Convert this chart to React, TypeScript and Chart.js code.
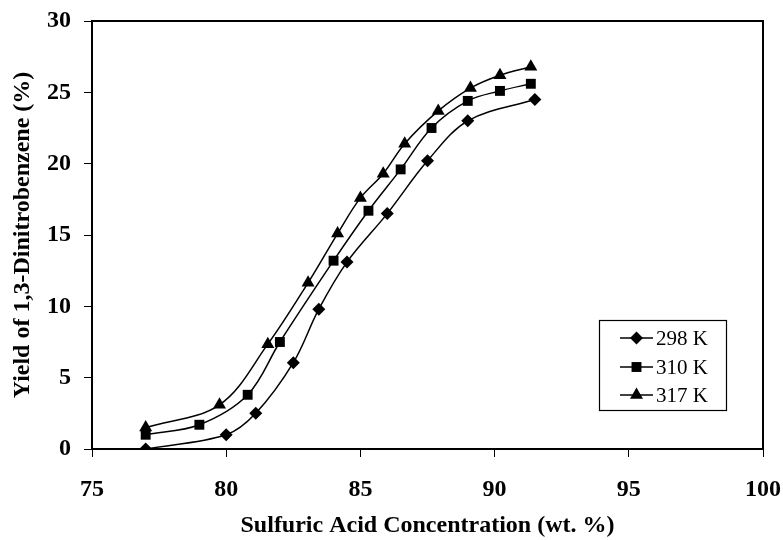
import React, { useEffect, useRef } from "react";
import { Chart, registerables } from "chart.js";
import { drawPoint } from "chart.js/helpers";

Chart.register(...registerables);

const FONT = "'Liberation Serif', 'Times New Roman', Times, serif";

const X_TITLE = "Sulfuric Acid Concentration (wt. %)";
const Y_TITLE = "Yield of 1,3-Dinitrobenzene (%)";

const X_MIN = 75;
const X_MAX = 100;
const X_STEP = 5;
const Y_MIN = 0;
const Y_MAX = 30;
const Y_STEP = 5;

const LABELS = ["298 K", "310 K", "317 K"];

const x298 = [77, 80, 81.1, 82.5, 83.45, 84.5, 86, 87.5, 89, 91.5];
const y298 = [0, 1.0, 2.5, 6.05, 9.8, 13.1, 16.5, 20.2, 23.0, 24.5];

const x310 = [77, 79, 80.8, 82, 84, 85.3, 86.5, 87.65, 89, 90.2, 91.35];
const y310 = [1.0, 1.7, 3.8, 7.5, 13.2, 16.7, 19.6, 22.5, 24.4, 25.1, 25.6];

const x317 = [77, 79.75, 81.55, 83.05, 84.15, 85.0, 85.85, 86.65, 87.9, 89.1, 90.2, 91.35];
const y317 = [1.5, 3.1, 7.35, 11.65, 15.1, 17.6, 19.3, 21.4, 23.7, 25.3, 26.2, 26.8];

const toPts = (xs: number[], ys: number[]) => xs.map((x, i) => ({ x, y: ys[i] }));

const boxPlugin = {
  id: "boxPlugin",
  afterDraw(chart: any) {
    const { ctx, chartArea } = chart;
    ctx.save();
    ctx.strokeStyle = "#000";
    ctx.lineWidth = 2;
    ctx.strokeRect(chartArea.left, chartArea.top, chartArea.right - chartArea.left, chartArea.bottom - chartArea.top);
    ctx.restore();
  },
};

const legendPlugin = {
  id: "customLegend",
  afterDraw(chart: any) {
    const { ctx } = chart;
    const bx = 599, by = 320, bw = 127, bh = 90;
    ctx.save();
    ctx.fillStyle = "#fff";
    ctx.fillRect(bx, by, bw, bh);
    ctx.strokeStyle = "#000";
    ctx.lineWidth = 1.2;
    ctx.strokeRect(bx + 0.5, by + 0.5, bw, bh);
    const rows = [338, 367, 395];
    chart.data.datasets.forEach((ds: any, i: number) => {
      const y = rows[i];
      ctx.strokeStyle = "#000";
      ctx.lineWidth = 1.5;
      ctx.beginPath();
      ctx.moveTo(620, y);
      ctx.lineTo(653, y);
      ctx.stroke();
      ctx.fillStyle = "#000";
      drawPoint(ctx, { pointStyle: ds.pointStyle, radius: ds.pointRadius, rotation: 0, borderWidth: 0 } as any, 636.5, y);
      ctx.fillStyle = "#000";
      ctx.font = `21px ${FONT}`;
      ctx.textBaseline = "middle";
      ctx.textAlign = "left";
      ctx.fillText(ds.label, 656, y + 1);
    });
    ctx.restore();
  },
};

export default function App() {
  const ref = useRef<HTMLCanvasElement | null>(null);

  useEffect(() => {
    if (!ref.current) return;
    const common = {
      borderColor: "#000",
      borderWidth: 1.5,
      pointBackgroundColor: "#000",
      pointBorderColor: "#000",
      pointBorderWidth: 0,
      tension: 0.35,
      fill: false,
    };
    const chart = new Chart(ref.current, {
      type: "line",
      data: {
        datasets: [
          { ...common, label: LABELS[0], data: toPts(x298, y298), pointStyle: "rectRot", pointRadius: 6.5 },
          { ...common, label: LABELS[1], data: toPts(x310, y310), pointStyle: "rect", pointRadius: 7 },
          { ...common, label: LABELS[2], data: toPts(x317, y317), pointStyle: "triangle", pointRadius: 7.5 },
        ] as any,
      },
      options: {
        animation: false,
        responsive: true,
        maintainAspectRatio: false,
        layout: { padding: { left: 0, top: 21, right: 20, bottom: 0 } },
        plugins: { legend: { display: false }, tooltip: { enabled: false } },
        scales: {
          x: {
            type: "linear",
            min: X_MIN,
            max: X_MAX,
            ticks: {
              stepSize: X_STEP,
              color: "#000",
              font: { family: FONT, size: 24, weight: "bold" },
              padding: 18,
              maxRotation: 0,
            },
            grid: { display: true, drawOnChartArea: false, drawTicks: true, tickLength: 8, color: "#000", tickWidth: 1 },
            border: { display: true, color: "#000", width: 2 },
            title: {
              display: true,
              text: X_TITLE,
              color: "#000",
              font: { family: FONT, size: 24, weight: "bold", lineHeight: 1 },
              padding: { top: 0, bottom: 2 },
            },
            afterFit: (s: any) => {
              s.height = 91;
              s.paddingLeft = 0;
              s.paddingRight = 0;
            },
          },
          y: {
            type: "linear",
            min: Y_MIN,
            max: Y_MAX,
            ticks: {
              stepSize: Y_STEP,
              color: "#000",
              font: { family: FONT, size: 24, weight: "bold" },
              padding: 13,
            },
            grid: { display: true, drawOnChartArea: false, drawTicks: true, tickLength: 8, color: "#000", tickWidth: 1 },
            border: { display: true, color: "#000", width: 2 },
            title: {
              display: true,
              text: Y_TITLE,
              color: "#000",
              font: { family: FONT, size: 24, weight: "bold", lineHeight: 1 },
              padding: { top: 11, bottom: 0 },
            },
            afterFit: (s: any) => {
              s.width = 92;
              s.paddingTop = 0;
              s.paddingBottom = 0;
            },
          },
        },
      } as any,
      plugins: [boxPlugin, legendPlugin],
    });
    return () => chart.destroy();
  }, []);

  return (
    <div style={{ position: "absolute", left: 0, top: 0, width: 783, height: 540, background: "#fff" }}>
      <canvas ref={ref} />
    </div>
  );
}
